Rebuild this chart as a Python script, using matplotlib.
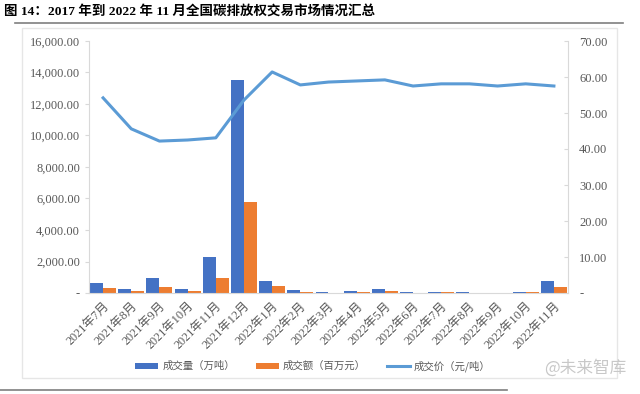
import matplotlib.pyplot as plt
import matplotlib.ticker as mticker
import numpy as np

plt.rcParams['font.family'] = ['Liberation Serif', 'Noto Sans CJK SC', 'DejaVu Sans']

months = ['2021年7月', '2021年8月', '2021年9月', '2021年10月', '2021年11月', '2021年12月',
          '2022年1月', '2022年2月', '2022年3月', '2022年4月', '2022年5月', '2022年6月',
          '2022年7月', '2022年8月', '2022年9月', '2022年10月', '2022年11月']
volume = [635, 254, 952, 254, 2286, 13520, 760, 170, 60, 130, 250, 60, 80, 50, 5, 80, 760]
amount = [317, 127, 381, 100, 952, 5780, 444, 80, 30, 60, 130, 30, 40, 20, 3, 40, 381]
price = [54.2, 45.6, 42.2, 42.5, 43.1, 53.6, 61.4, 57.8, 58.6, 58.9, 59.2, 57.5,
         58.1, 58.1, 57.5, 58.1, 57.5]

c_blue = '#4472C4'
c_orange = '#ED7D31'
c_line = '#5B9BD5'
c_grey = '#595959'
c_axis = '#D9D9D9'

fig = plt.figure(figsize=(6.4, 3.94), dpi=100)

# 标题和分隔线
fig.text(4 / 640, 1 - 12 / 394, '图 14：2017 年到 2022 年 11 月全国碳排放权交易市场情况汇总',
         fontsize=9.7, fontweight='bold', va='center', ha='left',
         family=['Liberation Serif', 'Noto Sans CJK SC'])
fig.add_artist(plt.Line2D([15 / 640, 623 / 640], [1 - 23 / 394] * 2, color='#7F7F7F', lw=1.2))
fig.add_artist(plt.Line2D([0, 507 / 640], [1 - 390 / 394] * 2, color='#7F7F7F', lw=1.2))
# 图表外框
fig.add_artist(plt.Rectangle((22 / 640, 1 - 378 / 394), 595 / 640, 350 / 394,
                             fill=False, ec='#E6E6E6', lw=1))

ax = fig.add_axes([89 / 640, 1 - 293 / 394, 479 / 640, 252 / 394])
x = np.arange(len(months))
w = 0.46
ax.bar(x - w / 2, volume, w, color=c_blue, label='成交量（万吨）', zorder=2)
ax.bar(x + w / 2, amount, w, color=c_orange, label='成交额（百万元）', zorder=2)
ax.set_xlim(-0.5, len(months) - 0.5)
ax.set_ylim(0, 16000)
ax.set_yticks(np.arange(0, 16001, 2000))
ax.yaxis.set_major_formatter(mticker.FuncFormatter(lambda v, p: '-' if v == 0 else f'{v:,.2f}'))
ax.set_xticks(x)
ax.set_xticklabels(months, rotation=45, ha='right', rotation_mode='anchor',
                   family=['Liberation Serif', 'Noto Sans CJK SC'], fontsize=8.8, color=c_grey)
ax.tick_params(axis='x', length=0, pad=5)
ax.tick_params(axis='y', length=3, color=c_axis, labelsize=9, labelcolor=c_grey)
for s in ['top', 'right']:
    ax.spines[s].set_visible(False)
ax.spines['left'].set_color(c_axis)
ax.spines['bottom'].set_color(c_axis)

ax2 = ax.twinx()
ax2.plot(x, price, color=c_line, lw=2.2, label='成交价（元/吨）', zorder=3)
ax2.set_ylim(0, 70)
ax2.set_yticks(np.arange(0, 71, 10))
ax2.yaxis.set_major_formatter(mticker.FuncFormatter(lambda v, p: '-' if v == 0 else f'{v:.2f}'))
ax2.tick_params(axis='y', length=3, direction='in', color=c_axis, labelsize=9,
                labelcolor=c_grey, pad=8)
for s in ['top', 'left', 'bottom']:
    ax2.spines[s].set_visible(False)
ax2.spines['right'].set_color(c_axis)

h1, l1 = ax.get_legend_handles_labels()
h2, l2 = ax2.get_legend_handles_labels()
fig.legend(h1 + h2, l1 + l2, loc='center', bbox_to_anchor=(313 / 640, 1 - 366 / 394),
           ncol=3, frameon=False, handlelength=2.2, handleheight=0.5, columnspacing=2.0,
           handletextpad=0.4,
           prop={'family': ['Noto Sans CJK SC'], 'size': 7.5}, labelcolor=c_grey)

fig.text(626 / 640, 1 - 368 / 394, '@未来智库', ha='right', va='center', fontsize=12,
         color='#C8C8C8', family=['Noto Sans CJK SC'])

fig.savefig('out.png', dpi=100)
